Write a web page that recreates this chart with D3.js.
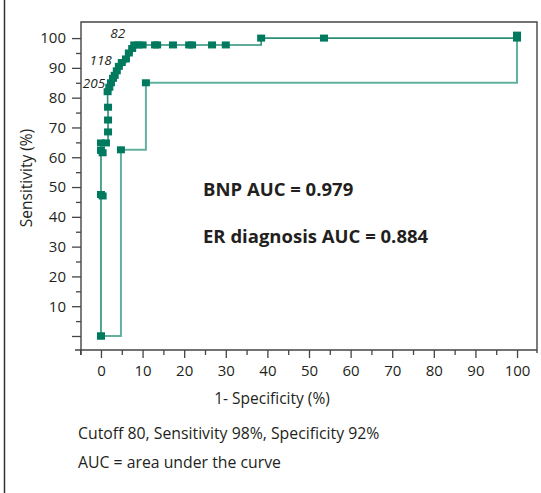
<!DOCTYPE html>
<head>
  <meta charset="utf-8">
  <script src="https://d3js.org/d3.v7.min.js"></script>
  <style>
    body { margin: 0; background: #fff; }
    svg { font-family: "Open Sans", "Noto Sans", sans-serif; }
    .tick line { stroke: #444; stroke-width: 1.3; }
    .domain { display: none; }
  </style>
</head>
<body>
  <svg width="541" height="493"></svg>
  <script>
    // BNP curve: 1-specificity (%) and sensitivity (%)
    var bnpSpec = [0, 0, 0.4, 0, 0.4, 0, 1.2, 1.7, 1.7, 1.7, 1.6, 2.0, 2.4, 2.9, 3.3, 3.8, 4.3,
                   5.0, 6.0, 6.7, 7.5, 8.0, 9.0, 10.0, 13.0, 13.5, 17.3, 21.2, 21.9, 26.7, 30.0, 38.5, 53.6, 100];
    var bnpSens = [0, 47.5, 47, 62.3, 61.5, 64.8, 64.8, 68.5, 72.5, 76.8, 82.0, 83.5, 85, 86.5, 87.5, 89, 90.5,
                   91.8, 93, 95, 96.5, 97.7, 97.7, 97.7, 97.7, 97.7, 97.7, 97.7, 97.7, 97.7, 97.7, 100, 100, 100];
    // ER diagnosis curve
    var erSpec = [0, 4.8, 10.8, 100];
    var erSens = [0, 62.5, 85, 101];
    // cutoff annotations
    var cutoffLabels = ['205', '118', '82'];
    var cutoffSpec = [1.0, 2.6, 5.8];
    var cutoffSens = [83.2, 91, 100];

    var xMajor = d3.range(0, 101, 10);
    var xMinor = d3.range(-5, 100, 10);
    var yMajor = d3.range(0, 101, 10);
    var yMinor = d3.range(5, 100, 10);

    var svg = d3.select('svg');
    var x = d3.scaleLinear().domain([-4.8, 104.8]).range([81, 537]);
    var y = d3.scaleLinear().domain([-4.7, 105.4]).range([350, 22]);

    var font = '"Open Sans", "Noto Sans", sans-serif';
    var ink = '#231f20';
    var axisCol = '#444';

    // outer figure frame edge
    svg.append('line').attr('x1', 4.5).attr('x2', 4.5).attr('y1', 0).attr('y2', 493)
      .attr('stroke', '#333').attr('stroke-width', 1.5);

    function styleAxis(g) {
      g.attr('font-family', font).attr('font-size', 15);
      g.selectAll('.tick text').attr('fill', ink);
    }

    // axes
    svg.append('g').attr('transform', 'translate(81,0)')
      .call(d3.axisLeft(y).tickValues(yMajor).tickSize(9).tickPadding(6)
        .tickFormat(function(d) { return d === 0 ? '' : d; }))
      .call(styleAxis);
    svg.append('g').attr('transform', 'translate(81,0)')
      .call(d3.axisLeft(y).tickValues(yMinor).tickSize(5).tickFormat(''));
    svg.append('g').attr('transform', 'translate(0,350)')
      .call(d3.axisBottom(x).tickValues(xMajor).tickSize(8).tickPadding(7))
      .call(styleAxis);
    svg.append('g').attr('transform', 'translate(0,350)')
      .call(d3.axisBottom(x).tickValues(xMinor).tickSize(5).tickFormat(''));

    // plot frame
    svg.append('path')
      .attr('d', 'M81,355V22H537V353M75,350H537')
      .attr('fill', 'none').attr('stroke', axisCol).attr('stroke-width', 1.4);

    var line = d3.line().curve(d3.curveStepAfter)
      .x(function(d) { return x(d[0]); })
      .y(function(d) { return y(d[1]); });

    var er = d3.zip(erSpec, erSens);
    var bnp = d3.zip(bnpSpec, bnpSens);

    svg.append('path').attr('d', line(er))
      .attr('fill', 'none').attr('stroke', '#62b1a0').attr('stroke-width', 2);
    svg.append('path').attr('d', line(bnp))
      .attr('fill', 'none').attr('stroke', '#2b8f78').attr('stroke-width', 1.6);

    var mw = 8, mh = 7;
    svg.append('g').selectAll('rect')
      .data(er.concat(bnp)).enter().append('rect')
      .attr('x', function(d) { return x(d[0]) - mw / 2; })
      .attr('y', function(d) { return y(d[1]) - mh / 2; })
      .attr('width', mw).attr('height', mh)
      .attr('fill', '#007a5e');

    // cutoff labels
    svg.append('g').selectAll('text')
      .data(cutoffLabels).enter().append('text')
      .attr('x', function(d, i) { return x(cutoffSpec[i]); })
      .attr('y', function(d, i) { return y(cutoffSens[i]); })
      .attr('text-anchor', 'end')
      .attr('font-size', 13.5).attr('font-style', 'italic').attr('fill', ink)
      .text(function(d) { return d; });

    // AUC annotations
    svg.append('text').attr('x', 203).attr('y', 196)
      .attr('font-size', 18.5).attr('font-weight', 700).attr('fill', ink)
      .text('BNP AUC = 0.979');
    svg.append('text').attr('x', 203).attr('y', 243)
      .attr('font-size', 18.5).attr('font-weight', 700).attr('fill', ink)
      .text('ER diagnosis AUC = 0.884');

    // axis titles
    svg.append('text').attr('transform', 'translate(32,178)rotate(-90)')
      .attr('text-anchor', 'middle').attr('font-size', 15.5).attr('fill', ink)
      .text('Sensitivity (%)');
    svg.append('text').attr('x', 272).attr('y', 404)
      .attr('text-anchor', 'middle').attr('font-size', 15.5).attr('fill', ink)
      .text('1- Specificity (%)');

    // footnotes
    svg.append('text').attr('x', 78).attr('y', 439)
      .attr('font-size', 15.8).attr('fill', ink)
      .text('Cutoff 80, Sensitivity 98%, Specificity 92%');
    svg.append('text').attr('x', 78).attr('y', 468)
      .attr('font-size', 15.8).attr('fill', ink)
      .text('AUC = area under the curve');
  </script>
</body>
